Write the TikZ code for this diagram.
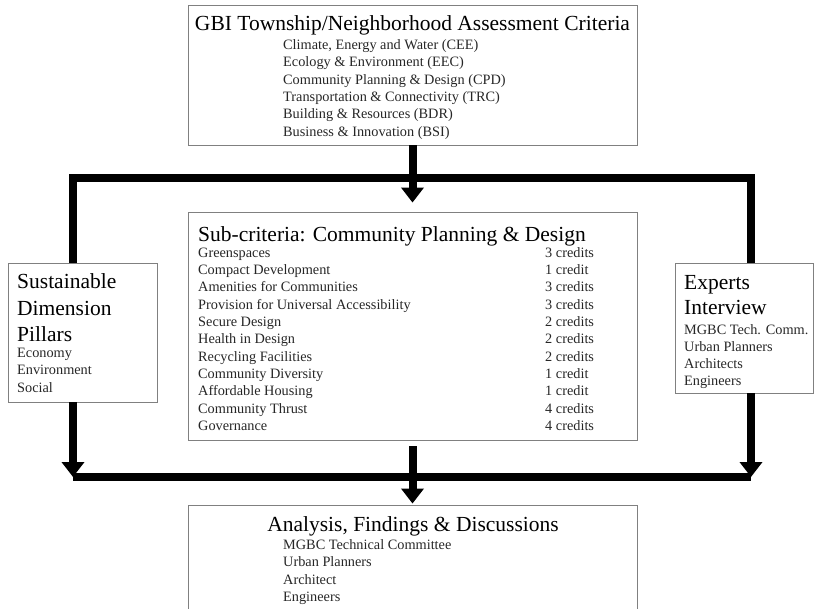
\documentclass[tikz,border=0pt]{standalone}
\usepackage{fontspec}
\setmainfont{Liberation Serif}
\usetikzlibrary{positioning,arrows.meta}

\tikzset{
	box/.style={draw=black!50,line width=0.9pt,inner sep=0pt},
	pipe/.style={line width=8pt},
	pipearrow/.style={pipe,-{Triangle[width=22pt,length=15pt]}},
	heading/.style={font=\fontsize{21.5}{26}\selectfont,inner sep=0pt},
	entry/.style={font=\fontsize{14.3}{17}\selectfont,text=black!85,inner sep=0pt,anchor=base west},
}

\begin{document}
\begin{tikzpicture}[x=1pt,y=-1pt]
	\useasboundingbox (0,0) rectangle (816,608);

	\node[box,minimum width=449,minimum height=140] (gbi) at (412.5,75) {};
	\node[box,minimum width=449,minimum height=228] (sub) at (412.5,326) {};
	\node[box,minimum width=149,minimum height=139] (pillars) at (82.5,332.5) {};
	\node[box,minimum width=138,minimum height=130] (experts) at (744,328) {};
	\node[box,minimum width=449,minimum height=115] (result) at (412.5,562.5) {};

	\node[heading,anchor=base] (gbititle) at (412.5,30) {GBI Township/Neighborhood Assessment Criteria};
	\foreach \txt [count=\i from 0] in {{Climate, Energy and Water (CEE)},Ecology \& Environment (EEC),Community Planning \& Design (CPD),Transportation \& Connectivity (TRC),Building \& Resources (BDR),Business \& Innovation (BSI)}
		\node[entry] (gbi\i) at (283,49.3+\i*17.4) {\txt};

	\node[heading,anchor=base west] (subtitle) at (198,241.5) {Sub-criteria: Community Planning \& Design};
	\foreach \nm/\crd [count=\i from 0] in {Greenspaces/3 credits,Compact Development/1 credit,Amenities for Communities/3 credits,Provision for Universal Accessibility/3 credits,Secure Design/2 credits,Health in Design/2 credits,Recycling Facilities/2 credits,Community Diversity/1 credit,Affordable Housing/1 credit,Community Thrust/4 credits,Governance/4 credits}
	{
		\node[entry] (sc\i) at (198,257.3+\i*17.3) {\nm};
		\node[entry] (cd\i) at (545,257.3+\i*17.3) {\crd};
	}

	\foreach \txt [count=\i from 0] in {Sustainable,Dimension,Pillars}
		\node[heading,anchor=base west] (pt\i) at (17,288.5+\i*26.5) {\txt};
	\foreach \txt [count=\i from 0] in {Economy,Environment,Social}
		\node[entry] (pe\i) at (17,357.3+\i*17.4) {\txt};

	\foreach \txt [count=\i from 0] in {Experts,Interview}
		\node[heading,anchor=base west] (et\i) at (684,289.5+\i*25) {\txt};
	\foreach \txt [count=\i from 0] in {MGBC Tech. Comm.,Urban Planners,Architects,Engineers}
		\node[entry] (ee\i) at (684,334.3+\i*17.2) {\txt};

	\node[heading,anchor=base] (restitle) at (413,531.5) {Analysis, Findings \& Discussions};
	\foreach \txt [count=\i from 0] in {MGBC Technical Committee,Urban Planners,Architect,Engineers}
		\node[entry] (re\i) at (283,549.3+\i*17.4) {\txt};

	\coordinate (splitL) at (73,178);
	\coordinate (splitR) at (751,178);
	\coordinate (mergeL) at (73,477);
	\coordinate (mergeR) at (751,477);

	\draw[pipe] (splitL |- pillars.north) -- (splitL) -- (splitR) -- (splitR |- experts.north);
	\draw[pipearrow,shorten >=9pt] (gbi.south) -- (sub.north);

	\draw[pipearrow] (pillars.south -| mergeL) -- (mergeL);
	\draw[pipearrow] (experts.south -| mergeR) -- (mergeR);
	\draw[pipe] (mergeL) -- (mergeR);
	\draw[pipearrow,shorten <=6pt,shorten >=1pt] (sub.south) -- (result.north);
\end{tikzpicture}
\end{document}
